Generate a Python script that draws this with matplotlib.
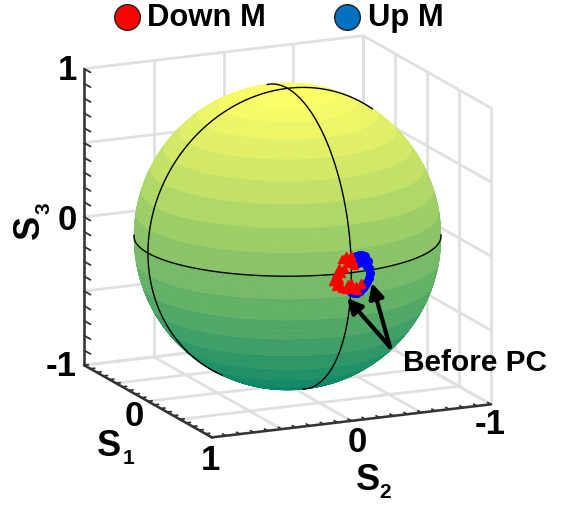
"""Poincare sphere with Down M / Up M states before PC."""

import numpy as np
import matplotlib
matplotlib.use("Agg")
import matplotlib.pyplot as plt
from matplotlib.patches import FancyArrowPatch
from mpl_toolkits.mplot3d.art3d import Poly3DCollection

plt.rcParams["font.family"] = ["Liberation Sans", "DejaVu Sans"]

# states
down_s2 = [.037, 0, -.011, -.022, .062, .025, .085, .049, .109, .073, .105, .125,
           .085, .105, .062, .085, .025, 0, -.011, -.047, -.070, -.034, .037, -.075]
down_s3 = [.113, .120, .075, .051, .094, .067, .040, .036, -.001, .006, -.046, -.044,
           -.037, -.080, -.096, -.071, -.078, -.070, -.115, -.125, -.088, -.096, -.110, -.079]
up_s2 = [0, -.022, -.047, -.070, -.090, -.100, -.118, -.130, -.140, -.130, -.118,
         -.105, -.125, -.100, -.078, -.055, -.034, -.055, -.047, -.070, -.022]
up_s3 = [-.130, -.145, -.148, -.136, -.118, -.100, -.080, -.050, -.020, .015, .028,
         .041, .065, .100, .110, .112, .110, .081, .059, .086, .100]

major_ticks = [-1, -0.5, 0, 0.5, 1]
minor_ticks = np.arange(-10, 11) / 10

GRID = "#e0e0e0"
AXIS = "#333333"
ELEV, AZIM = 15, -24.6
N_BANDS = 20

fig = plt.figure(figsize=(5.64, 5.07), dpi=100)
ax = fig.add_axes([22.5 / 564, 5.5 / 507, 516 / 564, 516 / 507], projection="3d", proj_type="ortho")
ax.computed_zorder = False
ax.set_xlim(-1, 1)
ax.set_ylim(1, -1)
ax.set_zlim(-1, 1)
ax.set_box_aspect((1, 1, 1))
ax.view_init(elev=ELEV, azim=AZIM)
ax.set_axis_off()
ax.patch.set_alpha(0)


def line3(xs, ys, zs, color=GRID, lw=2.0, zorder=1):
    ax.plot(xs, ys, zs, color=color, lw=lw, zorder=zorder, solid_capstyle="round")


# gridlines on the three back walls
for t in major_ticks:
    line3([-1, -1], [t, t], [-1, 1])
    line3([-1, -1], [-1, 1], [t, t])
    line3([t, t], [-1, -1], [-1, 1])
    line3([-1, 1], [-1, -1], [t, t])
    line3([t, t], [-1, 1], [-1, -1])
    line3([-1, 1], [t, t], [-1, -1])

# dark axes and their ticks
line3([-1, -1], [1, 1], [-1, 1], AXIS, 1.8, 1.5)
line3([-1, 1], [1, 1], [-1, -1], AXIS, 1.8, 1.5)
line3([1, 1], [-1, 1], [-1, -1], AXIS, 1.8, 1.5)
for t in minor_ticks:
    line3([-1, -0.9], [1, 1], [t, t], AXIS, 1.3, 1.5)
    line3([t, t], [1, 0.97], [-1, -1], AXIS, 1.3, 1.5)
    line3([1, 0.95], [t, t], [-1, -1], AXIS, 1.3, 1.5)

# sphere, coloured by height in latitude bands, front-facing quads only
view = np.array([np.cos(np.radians(AZIM)) * np.cos(np.radians(ELEV)),
                 -np.sin(np.radians(AZIM)) * np.cos(np.radians(ELEV)),
                 np.sin(np.radians(ELEV))])
lon = np.linspace(0, 2 * np.pi, 145)
lat = np.linspace(-np.pi / 2, np.pi / 2, 101)
lon_g, lat_g = np.meshgrid(lon, lat)
pts = np.stack([np.cos(lat_g) * np.cos(lon_g), np.cos(lat_g) * np.sin(lon_g), np.sin(lat_g)], axis=-1)
quads, quad_colors = [], []
for i in range(len(lat) - 1):
    band = min(int((lat[i] + lat[i + 1]) / 2 / np.pi * N_BANDS + N_BANDS / 2), N_BANDS - 1)
    band_mid = ((band + 0.5) / N_BANDS - 0.5) * np.pi
    color = plt.cm.summer((np.sin(band_mid) + 1) / 2)
    for j in range(len(lon) - 1):
        quad = [pts[i, j], pts[i, j + 1], pts[i + 1, j + 1], pts[i + 1, j]]
        if np.dot(np.mean(quad, axis=0), view) > -0.02:
            quads.append(quad)
            quad_colors.append(color)
ax.add_collection3d(Poly3DCollection(quads, facecolors=quad_colors, edgecolors=quad_colors,
                                     linewidths=0.4, zorder=2))

# great circles, front half only
t = np.linspace(0, 2 * np.pi, 721)
circles = [(np.cos(t), np.sin(t), 0 * t), (0 * t, np.cos(t), np.sin(t)), (np.cos(t), 0 * t, np.sin(t))]
for cx, cy, cz in circles:
    hidden = cx * view[0] + cy * view[1] + cz * view[2] < -0.04
    ax.plot(np.where(hidden, np.nan, cx), cy, cz, color="black", lw=1.0, zorder=3)

# measured states
up_s1 = np.sqrt(1 - np.array(up_s2) ** 2 - np.array(up_s3) ** 2)
down_s1 = np.sqrt(1 - np.array(down_s2) ** 2 - np.array(down_s3) ** 2)
ax.plot(up_s1, up_s2, up_s3, ls="none", marker="o", ms=5.5, color="#0000ff", zorder=4)
ax.plot(down_s1, down_s2, down_s3, ls="none", marker="^", ms=6, color="#ff0000", zorder=5)

# overlay in pixel coordinates for labels, legend and arrows
ov = fig.add_axes([0, 0, 1, 1])
ov.set_xlim(0, 564)
ov.set_ylim(507, 0)
ov.axis("off")


def label(x, y, s, size, ha="center", rotation=0):
    ov.text(x, y, s, fontsize=size, fontweight="bold", ha=ha, va="center", rotation=rotation)


label(77, 71, "1", 25, ha="right")
label(77, 221, "0", 25, ha="right")
label(77, 366, "-1", 25, ha="right")
label(134, 417, "0", 25)
label(210, 460, "1", 25)
label(357, 443, "0", 25)
label(490, 425, "-1", 25)
label(109, 446, "S", 26)
label(128, 459, "1", 15)
label(368, 480, "S", 26)
label(385, 493, "2", 15)
label(29, 227, "S", 26, rotation=90)
label(44, 208, "3", 15, rotation=90)
label(475, 363, "Before PC", 21.5)

for tip in [(347, 298), (372, 283)]:
    ov.add_patch(FancyArrowPatch((390, 347), tip, arrowstyle="-|>", mutation_scale=22,
                                 color="black", lw=3, shrinkA=0, shrinkB=0))

ov.plot([127], [17], marker="o", ms=18.5, mfc="#ff0000", mec="#222222", mew=1)
ov.plot([347], [17], marker="o", ms=18.5, mfc="#0070c0", mec="#222222", mew=1)
label(147, 18, "Down M", 22.3, ha="left")
label(368, 18, "Up M", 22.3, ha="left")

fig.savefig("out.png", dpi=100)
